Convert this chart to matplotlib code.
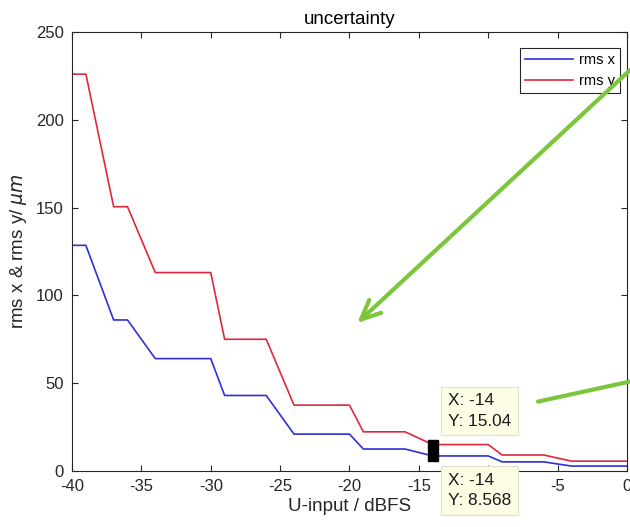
import matplotlib
matplotlib.use("Agg")
import matplotlib.pyplot as plt
from matplotlib.patches import FancyArrowPatch

plt.rcParams['font.family'] = ['Liberation Sans', 'DejaVu Sans']
plt.rcParams['mathtext.fontset'] = 'dejavusans'
plt.rcParams['axes.unicode_minus'] = False

# input level (dBFS) and rms values (um)
u_input = [-40, -39, -37, -36, -34, -30, -29, -26, -24, -20, -19, -16,
           -14, -10, -9, -6, -4, 0]
rms_x = [128.5, 128.5, 86, 86, 64, 64, 43, 43, 21, 21, 12.5, 12.5,
         8.568, 8.568, 5.2, 5.2, 2.8, 2.8]
rms_y = [226, 226, 150.5, 150.5, 113, 113, 75, 75, 37.5, 37.5, 22.3, 22.3,
         15.04, 15.04, 9.1, 9.1, 5.6, 5.6]

x_ticks = list(range(-40, 1, 5))
y_ticks = list(range(0, 251, 50))

# data cursor positions
tip_x = -14
tip_y_top = 15.04
tip_y_bottom = 8.568

grey = '#262626'

fig = plt.figure(figsize=(6.3, 5.27), dpi=100)
ax = fig.add_axes([0.1143, 0.1063, 0.8809, 0.8330])

ax.plot(u_input, rms_x, color='#2f2fd8', linewidth=1.2, label='rms x')
ax.plot(u_input, rms_y, color='#e3263c', linewidth=1.2, label='rms y')

ax.set_xlim(-40, 0)
ax.set_ylim(0, 250)
ax.set_xticks(x_ticks)
# the -10 label sits under the lower data tip
ax.set_xticklabels(['' if t == tip_x + 4 else str(t) for t in x_ticks])
ax.set_yticks(y_ticks)
ax.tick_params(direction='in', length=4, top=True, right=True,
               labelsize=12, colors=grey, pad=6)
for s in ax.spines.values():
    s.set_color(grey)
    s.set_linewidth(0.8)

ax.set_title('uncertainty', fontsize=13.5, color='black', pad=6)
ax.set_xlabel('U-input / dBFS', fontsize=13.5, color=grey, labelpad=3)
ax.set_ylabel(r'rms x & rms y/ $\mu m$', fontsize=13.5, color=grey,
              labelpad=5)

leg = ax.legend(loc='upper right', bbox_to_anchor=(0.987, 0.9636),
                borderaxespad=0, fancybox=False, framealpha=1,
                edgecolor=grey, fontsize=10.5, handlelength=3.3,
                labelspacing=0.5, borderpad=0.35, handletextpad=0.4)
leg.get_frame().set_linewidth(0.8)

# data tips
tip_box = dict(boxstyle='square,pad=0.38', facecolor='#fdfde6',
               edgecolor='#e2e2cc', linewidth=0.8)
ax.plot([tip_x, tip_x], [tip_y_top, tip_y_bottom], linestyle='none',
        marker='s', markersize=7, color='black', zorder=5)
ax.annotate(f'X: {tip_x}\nY: {tip_y_top}', xy=(tip_x, tip_y_top),
            xytext=(15, 16), textcoords='offset pixels', ha='left',
            va='bottom', fontsize=12.4, color='#1a1a1a', linespacing=1.45,
            bbox=tip_box, annotation_clip=False, zorder=6)
ax.annotate(f'X: {tip_x}\nY: {tip_y_bottom}', xy=(tip_x, tip_y_bottom),
            xytext=(15, -17), textcoords='offset pixels', ha='left',
            va='top', fontsize=12.4, color='#1a1a1a', linespacing=1.45,
            bbox=tip_box, annotation_clip=False, zorder=6)

# green pointer arrows
green = '#7cc63c'
fig.add_artist(FancyArrowPatch((1.0, 0.867), (0.567, 0.387),
                               transform=fig.transFigure,
                               arrowstyle='->,head_length=1.0,head_width=0.45',
                               mutation_scale=14, color=green, linewidth=3,
                               shrinkA=0, shrinkB=0,
                               capstyle='round', joinstyle='round'))
fig.add_artist(FancyArrowPatch((1.0, 0.276), (0.854, 0.238),
                               transform=fig.transFigure, arrowstyle='-',
                               color=green, linewidth=3,
                               shrinkA=0, shrinkB=0))

fig.savefig('out.png', dpi=100)
